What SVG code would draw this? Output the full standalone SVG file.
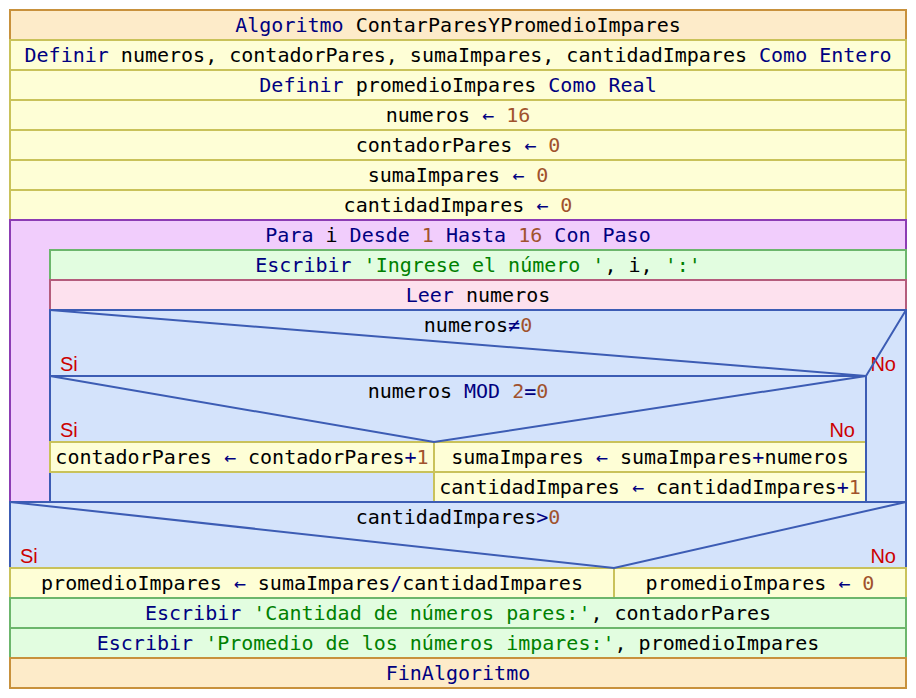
<svg xmlns="http://www.w3.org/2000/svg" width="916" height="698" viewBox="0 0 916 698">
<style>
.t{font-family:"DejaVu Sans Mono","Liberation Mono",monospace;font-size:20px;fill:#000;text-anchor:middle}
.k{fill:#000080}
.n{fill:#a0522d}
.s{fill:#008000}
.lb{font-family:"Liberation Sans",Arial,sans-serif;font-size:20px;fill:#cc0000}
.hd{fill:#fdebc9;stroke:#c8913c;stroke-width:2}
.as{fill:#fefed6;stroke:#c9c25a;stroke-width:2}
.lp{fill:#f1cdfc;stroke:#8c3cb4;stroke-width:2}
.wr{fill:#e2fde0;stroke:#6cb66c;stroke-width:2}
.rd{fill:#fde1ee;stroke:#b45c7c;stroke-width:2}
.cd{fill:#d4e3fb;stroke:#3c5cb4;stroke-width:2}
.ln{fill:none;stroke:#3c5cb4;stroke-width:2}
</style>
<rect width="916" height="698" fill="#fff"/>
<g id="n-algoritmo"><rect class="hd" x="10" y="10" width="896" height="30"/><text class="t" x="458" y="32"><tspan class="k">Algoritmo</tspan> ContarParesYPromedioImpares</text></g>
<g id="n-def1"><rect class="as" x="10" y="40" width="896" height="30"/><text class="t" x="458" y="62"><tspan class="k">Definir</tspan> numeros, contadorPares, sumaImpares, cantidadImpares <tspan class="k">Como Entero</tspan></text></g>
<g id="n-def2"><rect class="as" x="10" y="70" width="896" height="30"/><text class="t" x="458" y="92"><tspan class="k">Definir</tspan> promedioImpares <tspan class="k">Como Real</tspan></text></g>
<g id="n-a1"><rect class="as" x="10" y="100" width="896" height="30"/><text class="t" x="458" y="122">numeros <tspan class="k">←</tspan> <tspan class="n">16</tspan></text></g>
<g id="n-a2"><rect class="as" x="10" y="130" width="896" height="30"/><text class="t" x="458" y="152">contadorPares <tspan class="k">←</tspan> <tspan class="n">0</tspan></text></g>
<g id="n-a3"><rect class="as" x="10" y="160" width="896" height="30"/><text class="t" x="458" y="182">sumaImpares <tspan class="k">←</tspan> <tspan class="n">0</tspan></text></g>
<g id="n-a4"><rect class="as" x="10" y="190" width="896" height="30"/><text class="t" x="458" y="212">cantidadImpares <tspan class="k">←</tspan> <tspan class="n">0</tspan></text></g>
<g id="n-para"><rect class="lp" x="10" y="220" width="896" height="282"/><text class="t" x="458" y="242"><tspan class="k">Para</tspan> i <tspan class="k">Desde</tspan> <tspan class="n">1</tspan> <tspan class="k">Hasta</tspan> <tspan class="n">16</tspan> <tspan class="k">Con Paso</tspan></text></g>
<g id="n-escribir1"><rect class="wr" x="50" y="250" width="856" height="30"/><text class="t" x="478" y="272"><tspan class="k">Escribir</tspan> <tspan class="s">'Ingrese el número '</tspan>, i, <tspan class="s">':'</tspan></text></g>
<g id="n-leer"><rect class="rd" x="50" y="280" width="856" height="30"/><text class="t" x="478" y="302"><tspan class="k">Leer</tspan> numeros</text></g>
<g id="n-si1"><rect class="cd" x="50" y="310" width="856" height="192"/><text class="t" x="478" y="332">numeros<tspan class="k">≠</tspan><tspan class="n">0</tspan></text><text class="lb" x="60" y="371">Si</text><text class="lb" x="896" y="371" text-anchor="end">No</text></g>
<g id="n-si2"><rect class="cd" x="50" y="376" width="816" height="126"/><text class="t" x="458" y="398">numeros <tspan class="k">MOD</tspan> <tspan class="n">2</tspan><tspan class="k">=</tspan><tspan class="n">0</tspan></text><text class="lb" x="60" y="437">Si</text><text class="lb" x="855" y="437" text-anchor="end">No</text></g>
<g id="n-inc"><rect class="as" x="50" y="442" width="384" height="30"/><text class="t" x="242" y="464">contadorPares <tspan class="k">←</tspan> contadorPares<tspan class="k">+</tspan><tspan class="n">1</tspan></text></g>
<g id="n-suma"><rect class="as" x="434" y="442" width="432" height="30"/><text class="t" x="650" y="464">sumaImpares <tspan class="k">←</tspan> sumaImpares<tspan class="k">+</tspan>numeros</text></g>
<g id="n-cant"><rect class="as" x="434" y="472" width="432" height="30"/><text class="t" x="650" y="494">cantidadImpares <tspan class="k">←</tspan> cantidadImpares<tspan class="k">+</tspan><tspan class="n">1</tspan></text></g>
<g id="n-si3"><rect class="cd" x="10" y="502" width="896" height="66"/><text class="t" x="458" y="524">cantidadImpares<tspan class="k">&gt;</tspan><tspan class="n">0</tspan></text><text class="lb" x="20" y="563">Si</text><text class="lb" x="896" y="563" text-anchor="end">No</text></g>
<g id="n-prom1"><rect class="as" x="10" y="568" width="604" height="30"/><text class="t" x="312" y="590">promedioImpares <tspan class="k">←</tspan> sumaImpares<tspan class="k">/</tspan>cantidadImpares</text></g>
<g id="n-prom2"><rect class="as" x="614" y="568" width="292" height="30"/><text class="t" x="760" y="590">promedioImpares <tspan class="k">←</tspan> <tspan class="n">0</tspan></text></g>
<g id="n-escribir2"><rect class="wr" x="10" y="598" width="896" height="30"/><text class="t" x="458" y="620"><tspan class="k">Escribir</tspan> <tspan class="s">'Cantidad de números pares:'</tspan>, contadorPares</text></g>
<g id="n-escribir3"><rect class="wr" x="10" y="628" width="896" height="30"/><text class="t" x="458" y="650"><tspan class="k">Escribir</tspan> <tspan class="s">'Promedio de los números impares:'</tspan>, promedioImpares</text></g>
<g id="n-fin"><rect class="hd" x="10" y="658" width="896" height="30"/><text class="t" x="458" y="680"><tspan class="k">FinAlgoritmo</tspan></text></g>
<g id="connectors">
<polyline class="ln" points="50,310 866,376 906,310"/>
<line class="ln" x1="866" y1="376" x2="866" y2="502"/>
<polyline class="ln" points="50,376 434,442 866,376"/>
<polyline class="ln" points="10,502 614,568 906,502"/>
</g>
</svg>
